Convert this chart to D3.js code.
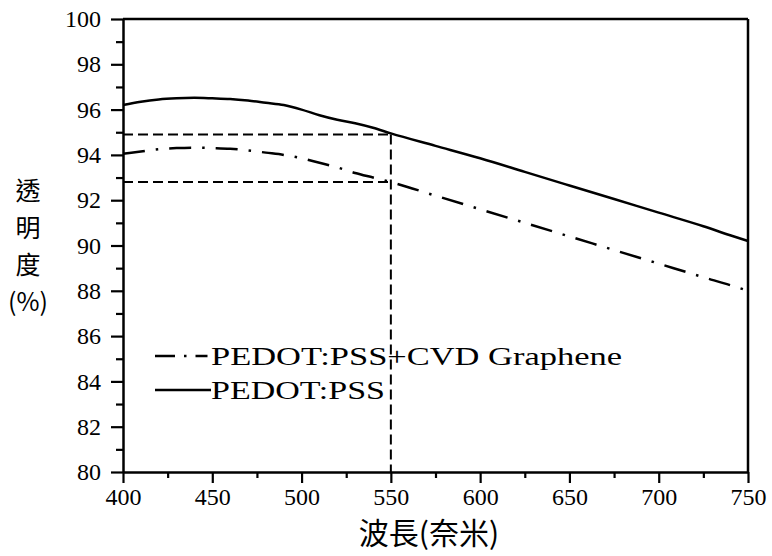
<!DOCTYPE html>
<html>
<head>
<meta charset="utf-8">
<script src="https://cdn.jsdelivr.net/npm/d3@7"></script>
<style>
  body { margin: 0; background: #fff; }
  svg { display: block; }
  .tick text { font-family: "Liberation Serif", "Times New Roman", serif; font-size: 24px; fill: #000; }
</style>
</head>
<body>
<svg id="chart" width="772" height="556"></svg>
<script>
// values
var wavelength = [400, 410, 420, 430, 440, 450, 460, 470, 480, 490, 500, 510, 520, 530, 540, 550, 575, 600, 625, 650, 675, 700, 725, 740, 750];
var pedot      = [96.2, 96.35, 96.45, 96.5, 96.52, 96.5, 96.47, 96.4, 96.3, 96.2, 96.0, 95.75, 95.55, 95.4, 95.2, 94.95, 94.4, 93.85, 93.25, 92.65, 92.05, 91.45, 90.85, 90.45, 90.2];
var graphene   = [94.05, 94.15, 94.25, 94.3, 94.32, 94.3, 94.27, 94.2, 94.1, 94.0, 93.85, 93.65, 93.45, 93.2, 93.0, 92.8, 92.2, 91.6, 91.0, 90.4, 89.8, 89.2, 88.6, 88.25, 88.0];
var xTicks = [400, 450, 500, 550, 600, 650, 700, 750];
var yTicks = [80, 82, 84, 86, 88, 90, 92, 94, 96, 98, 100];
var refWave = 550, refPedot = 94.9, refGraphene = 92.8;
var legendNames = ["PEDOT:PSS+CVD Graphene", "PEDOT:PSS"];

var margin = {top: 19, right: 24, bottom: 84, left: 123},
    width = 772 - margin.left - margin.right,
    height = 556 - margin.top - margin.bottom;

var svg = d3.select("#chart")
  .append("g")
    .attr("transform", "translate(" + margin.left + "," + margin.top + ")");

var x = d3.scaleLinear().domain([400, 750]).range([0, width]);
var y = d3.scaleLinear().domain([80, 100]).range([height, 0]);

var serif = "'Liberation Serif', 'Times New Roman', serif";
var cjk = "'Noto Sans CJK TC', 'Noto Sans CJK SC', sans-serif";

// minor ticks first, then major ticks with labels
svg.append("g")
    .attr("transform", "translate(0," + height + ")")
    .call(d3.axisBottom(x).tickValues(d3.range(425, 750, 50)).tickSize(6).tickFormat(""))
    .call(g => g.select(".domain").remove());
svg.append("g")
    .call(d3.axisLeft(y).tickValues(d3.range(81, 100, 2)).tickSize(7).tickFormat(""))
    .call(g => g.select(".domain").remove());

svg.append("g")
    .attr("transform", "translate(0," + height + ")")
    .call(d3.axisBottom(x).tickValues(xTicks).tickSize(11).tickSizeOuter(0).tickPadding(5));
svg.append("g")
    .call(d3.axisLeft(y).tickValues(yTicks).tickSize(12).tickSizeOuter(0).tickPadding(10));

svg.selectAll(".tick line").attr("stroke", "#000").attr("stroke-width", 2.2);
svg.selectAll(".domain").attr("stroke", "#000").attr("stroke-width", 2.5);

// top and right frame
svg.append("line").attr("x1", 0).attr("x2", width).attr("y1", 0).attr("y2", 0)
    .attr("stroke", "#000").attr("stroke-width", 2.5);
svg.append("line").attr("x1", width).attr("x2", width).attr("y1", 0).attr("y2", height)
    .attr("stroke", "#000").attr("stroke-width", 2.5);

// dashed guide lines at 550 nm
var guide = svg.append("g")
    .attr("stroke", "#000").attr("stroke-width", 2).attr("stroke-dasharray", "10,5").attr("fill", "none");
guide.append("line").attr("x1", 0).attr("x2", x(refWave)).attr("y1", y(refPedot)).attr("y2", y(refPedot));
guide.append("line").attr("x1", 0).attr("x2", x(refWave)).attr("y1", y(refGraphene)).attr("y2", y(refGraphene));
guide.append("line").attr("x1", x(refWave)).attr("x2", x(refWave)).attr("y1", y(refPedot)).attr("y2", height);

// curves
var line = d3.line().curve(d3.curveMonotoneX);

svg.append("path")
    .attr("d", line(wavelength.map((w, i) => [x(w), y(pedot[i])])))
    .attr("fill", "none").attr("stroke", "#000").attr("stroke-width", 2.5);

svg.append("path")
    .attr("d", line(wavelength.map((w, i) => [x(w), y(graphene[i])])))
    .attr("fill", "none").attr("stroke", "#000").attr("stroke-width", 2.5)
    .attr("stroke-dasharray", "22,11,2.5,11");

// legend
var legend = svg.append("g").attr("transform", "translate(32,337)");
legend.append("path").attr("d", "M0,0H56")
    .attr("stroke", "#000").attr("stroke-width", 2.5).attr("stroke-dasharray", "20,9,2.5,9,12");
legend.append("path").attr("d", "M0,34H56")
    .attr("stroke", "#000").attr("stroke-width", 2.5);
legend.selectAll("text.leg")
  .data(legendNames)
  .enter().append("text")
    .attr("class", "leg")
    .attr("x", 56)
    .attr("y", (d, i) => 9 + i * 34)
    .attr("textLength", (d, i) => i === 0 ? 411 : 174)
    .attr("lengthAdjust", "spacingAndGlyphs")
    .style("font-family", serif).style("font-size", "25px")
    .text(d => d);

// axis titles
svg.append("text")
    .attr("x", 429 - margin.left)
    .attr("y", 544 - margin.top)
    .attr("text-anchor", "middle")
    .style("font-family", cjk).style("font-size", "30px")
    .text("波長(奈米)");

var yTitle = ["透", "明", "度", "(%)"];
svg.selectAll("text.ytitle")
  .data(yTitle)
  .enter().append("text")
    .attr("class", "ytitle")
    .attr("x", 28 - margin.left)
    .attr("y", (d, i) => 181 + i * 37)
    .attr("text-anchor", "middle")
    .style("font-family", cjk).style("font-size", "25px")
    .text(d => d);
</script>
</body>
</html>
